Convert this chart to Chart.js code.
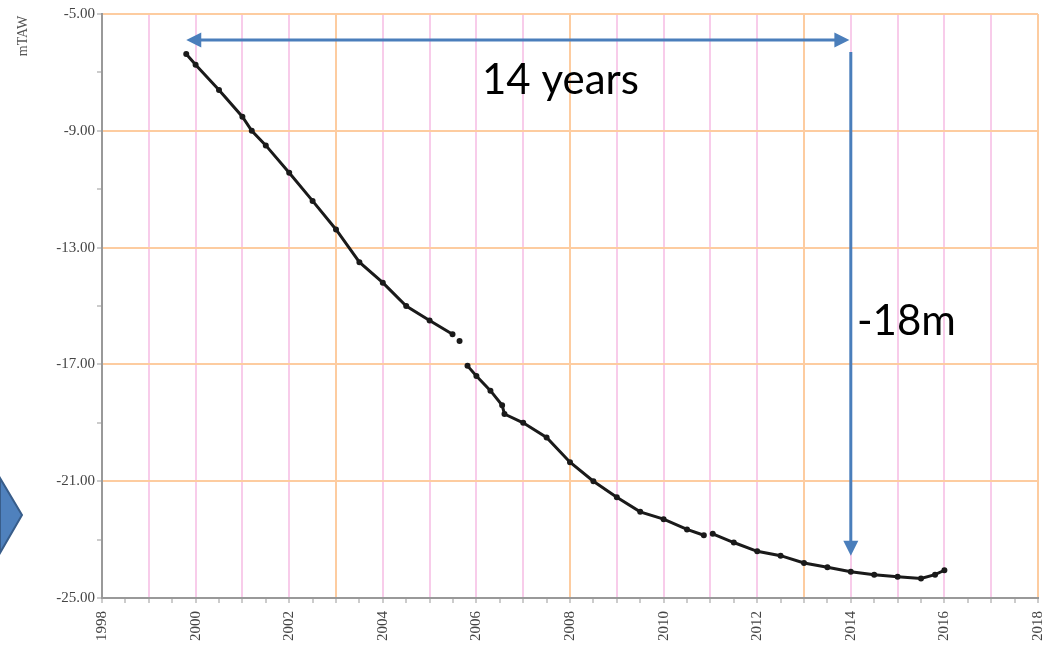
<!DOCTYPE html>
<html>
<head>
<meta charset="utf-8">
<script src="https://cdn.jsdelivr.net/npm/chart.js@4.4.1/dist/chart.umd.min.js"></script>
<style>
  body { margin: 0; background: #fff; }
  canvas { display: block; }
</style>
</head>
<body>
<canvas id="levelChart" width="1051" height="647"></canvas>
<script>
// water level readings (mTAW); null = gap in the record
const years = [1999.80, 2000.0, 2000.5, 2001.0, 2001.2, 2001.5, 2002.0, 2002.5, 2003.0, 2003.5,
  2004.0, 2004.5, 2005.0, 2005.49, 2005.56, 2005.64, 2005.72, 2005.81, 2006.0, 2006.3,
  2006.55, 2006.6, 2007.0, 2007.5, 2008.0, 2008.5, 2009.0, 2009.5, 2010.0, 2010.5,
  2010.86, 2010.95, 2011.05, 2011.5, 2012.0, 2012.5, 2013.0, 2013.5, 2014.0, 2014.5,
  2015.0, 2015.5, 2015.8, 2016.0];
const levels = [-6.37, -6.74, -7.6, -8.52, -9.0, -9.5, -10.44, -11.4, -12.38, -13.5,
  -14.2, -15.0, -15.5, -15.97, null, -16.2, null, -17.05, -17.4, -17.9,
  -18.4, -18.7, -19.0, -19.5, -20.35, -21.0, -21.55, -22.05, -22.3, -22.65,
  -22.85, null, -22.8, -23.1, -23.4, -23.55, -23.8, -23.95, -24.1, -24.2,
  -24.27, -24.33, -24.2, -24.05];
const yLabels = [-5, -9, -13, -17, -21, -25];
const xLabels = [1998, 2000, 2002, 2004, 2006, 2008, 2010, 2012, 2014, 2016, 2018];

const points = years.map((yr, i) => ({ x: yr, y: levels[i] }));

const pink = 'rgb(248,204,234)';
const orange = 'rgb(253,204,160)';
const blue = '#4a7ebb';
const serif = '"Liberation Serif", "DejaVu Serif", serif';
const sans = 'Lato, "Open Sans", sans-serif';

function arrowHead(ctx, x, y, dx, dy, size) {
  const px = -dy, py = dx;
  ctx.beginPath();
  ctx.moveTo(x, y);
  ctx.lineTo(x - dx * size + px * size * 0.5, y - dy * size + py * size * 0.5);
  ctx.lineTo(x - dx * size - px * size * 0.5, y - dy * size - py * size * 0.5);
  ctx.closePath();
  ctx.fill();
}

const notes = {
  id: 'notes',
  afterDraw(chart) {
    const ctx = chart.ctx;
    const xs = chart.scales.x, ys = chart.scales.y;
    ctx.save();
    // y axis title
    ctx.fillStyle = '#555';
    ctx.font = '14px ' + serif;
    ctx.translate(23, 36);
    ctx.rotate(-Math.PI / 2);
    ctx.textAlign = 'center';
    ctx.textBaseline = 'middle';
    ctx.fillText('mTAW', 0, 0);
    ctx.restore();

    ctx.save();
    ctx.strokeStyle = blue;
    ctx.fillStyle = blue;
    ctx.lineWidth = 3;
    // horizontal 14 years arrow
    const x0 = xs.getPixelForValue(1999.8), x1 = xs.getPixelForValue(2013.97);
    const yh = ys.getPixelForValue(-5.89);
    ctx.beginPath();
    ctx.moveTo(x0 + 12, yh);
    ctx.lineTo(x1 - 12, yh);
    ctx.stroke();
    arrowHead(ctx, x0, yh, -1, 0, 15);
    arrowHead(ctx, x1, yh, 1, 0, 15);
    // vertical -18m arrow
    const xv = xs.getPixelForValue(2014.0);
    const v0 = ys.getPixelForValue(-6.3), v1 = ys.getPixelForValue(-23.55);
    ctx.beginPath();
    ctx.moveTo(xv, v0);
    ctx.lineTo(xv, v1 - 12);
    ctx.stroke();
    arrowHead(ctx, xv, v1, 0, 1, 15);

    ctx.fillStyle = '#000';
    ctx.font = '42px ' + sans;
    ctx.textAlign = 'left';
    ctx.textBaseline = 'alphabetic';
    ctx.fillText('14 years', 482, 94);
    ctx.fillText('-18m', 857, 335);

    // blue chevron at the left edge
    ctx.beginPath();
    ctx.moveTo(0, 478);
    ctx.lineTo(22, 515);
    ctx.lineTo(0, 553);
    ctx.closePath();
    ctx.fillStyle = '#4f81bd';
    ctx.fill();
    ctx.lineWidth = 2;
    ctx.strokeStyle = '#385d8a';
    ctx.stroke();
    ctx.restore();
  }
};

new Chart(document.getElementById('levelChart'), {
  type: 'line',
  data: {
    datasets: [{
      data: points,
      borderColor: '#1a1a1a',
      backgroundColor: '#1a1a1a',
      borderWidth: 3,
      pointRadius: 1.5,
      pointHoverRadius: 1.5,
      spanGaps: false,
      tension: 0
    }]
  },
  options: {
    responsive: false,
    animation: false,
    layout: { padding: { left: 0, top: 14, right: 13, bottom: 0 } },
    plugins: { legend: { display: false }, tooltip: { enabled: false } },
    scales: {
      x: {
        type: 'linear',
        min: 1998,
        max: 2018,
        afterFit: s => { s.height = 49; s.paddingLeft = 0; s.paddingRight = 0; },
        afterBuildTicks: s => {
          const t = [];
          for (let v = 1998; v <= 2018; v += 0.5) t.push({ value: v });
          s.ticks = t;
        },
        ticks: {
          autoSkip: false,
          minRotation: 90,
          maxRotation: 90,
          padding: 8,
          color: '#444',
          font: { family: serif, size: 15 },
          callback: v => xLabels.includes(v) ? String(v) : ''
        },
        grid: {
          lineWidth: 2,
          tickLength: 5,
          tickWidth: 1,
          tickColor: '#999',
          color: c => {
            const v = c.tick.value;
            if (!Number.isInteger(v)) return 'rgba(0,0,0,0)';
            return (v - 1998) % 5 === 0 ? orange : pink;
          }
        },
        border: { color: '#999', width: 2 }
      },
      y: {
        min: -25,
        max: -5,
        afterFit: s => { s.width = 102; },
        afterBuildTicks: s => {
          const t = [];
          for (let v = -25; v <= -5; v += 2) t.push({ value: v });
          s.ticks = t;
        },
        ticks: {
          autoSkip: false,
          padding: 2,
          color: '#444',
          font: { family: serif, size: 15 },
          callback: v => yLabels.includes(v) ? v.toFixed(2) : ''
        },
        grid: {
          lineWidth: 2,
          tickLength: 5,
          tickWidth: 1,
          tickColor: '#999',
          color: c => yLabels.includes(c.tick.value) ? orange : 'rgba(0,0,0,0)'
        },
        border: { color: '#999', width: 2 }
      }
    }
  },
  plugins: [notes]
});
</script>
</body>
</html>
